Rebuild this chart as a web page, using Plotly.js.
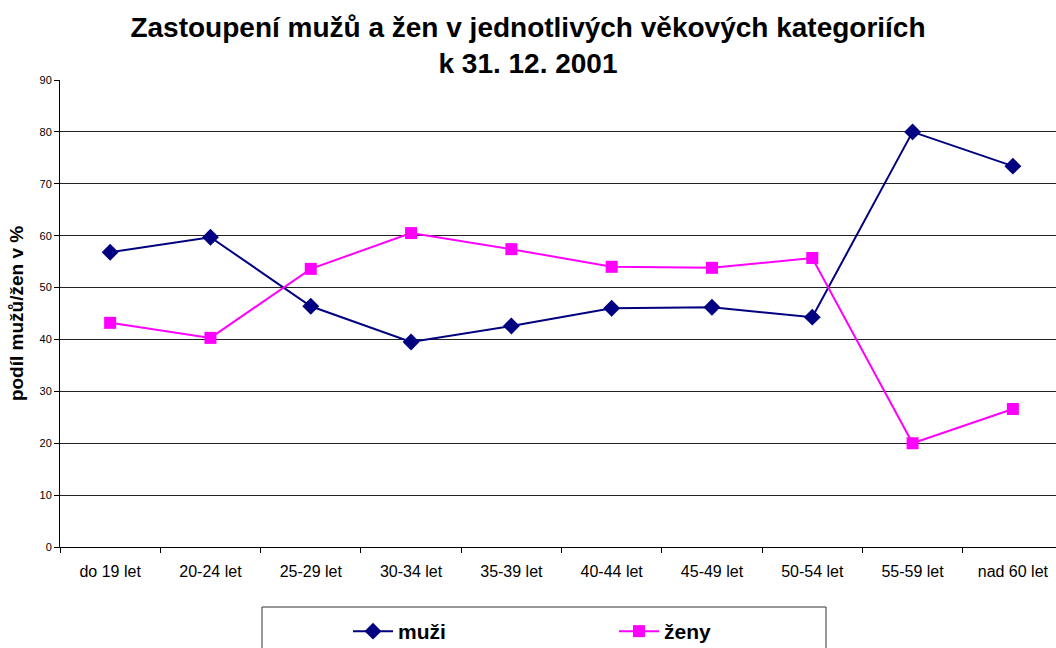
<!DOCTYPE html>
<html>
<head>
<meta charset="utf-8">
<script src="https://cdn.plot.ly/plotly-3.0.1.min.js"></script>
<style>html,body{margin:0;padding:0;background:#fff;}#chart{width:1056px;height:648px;}</style>
</head>
<body>
<div id="chart"></div>
<script>
const categories = ["do 19 let", "20-24 let", "25-29 let", "30-34 let", "35-39 let", "40-44 let", "45-49 let", "50-54 let", "55-59 let", "nad 60 let"];
const muzi = [56.8, 59.7, 46.4, 39.5, 42.6, 46.0, 46.2, 44.3, 80.0, 73.4];
const zeny = [43.2, 40.3, 53.6, 60.5, 57.4, 54.0, 53.8, 55.7, 20.0, 26.6];
const yTicks = [0, 10, 20, 30, 40, 50, 60, 70, 80, 90];

const FONT = "Liberation Sans, Arial, sans-serif";

const traces = [
  {
    x: categories, y: muzi, name: "muži", type: "scatter", mode: "lines+markers",
    line: {color: "#000080", width: 2},
    marker: {symbol: "diamond", size: 13, color: "#000080"}
  },
  {
    x: categories, y: zeny, name: "ženy", type: "scatter", mode: "lines+markers",
    line: {color: "#FF00FF", width: 2},
    marker: {symbol: "square", size: 12, color: "#FF00FF"}
  }
];

const layout = {
  width: 1056, height: 648,
  margin: {l: 60, r: 0, t: 80, b: 101},
  paper_bgcolor: "#fff", plot_bgcolor: "#fff",
  font: {family: FONT, color: "#000"},
  title: {
    text: "<b>Zastoupení mužů a žen v jednotlivých věkových kategoriích<br>k 31. 12. 2001</b>",
    font: {family: FONT, size: 28, color: "#000"},
    x: 0.5, xref: "container", xanchor: "center",
    y: 1 - 37/648, yref: "container", yanchor: "top"
  },
  xaxis: {
    type: "category",
    range: [-0.5, 9.43],
    automargin: false,
    showgrid: false, zeroline: false,
    showline: true, linecolor: "#000", linewidth: 1,
    ticks: "outside", tickson: "boundaries", ticklen: 5, tickcolor: "#000",
    tickfont: {family: FONT, size: 16, color: "#000"},
    ticklabelstandoff: 10,
    fixedrange: true
  },
  yaxis: {
    range: [0, 90], tickvals: yTicks, ticktext: yTicks.map(String),
    automargin: false,
    showgrid: true, gridcolor: "#222", gridwidth: 1,
    zeroline: false,
    showline: true, linecolor: "#000", linewidth: 1,
    ticks: "outside", ticklen: 5, tickcolor: "#000",
    tickfont: {family: FONT, size: 11, color: "#000"},
    title: {text: "<b>podíl mužů/žen v %</b>", font: {family: FONT, size: 19, color: "#000"}, standoff: 10},
    fixedrange: true
  },
  showlegend: true,
  legend: {
    orientation: "h",
    xref: "container", yref: "container",
    x: 348 / 1056, xanchor: "left",
    y: (648 - 611) / 648, yanchor: "top",
    bgcolor: "rgba(0,0,0,0)", borderwidth: 0,
    font: {family: FONT, size: 21, color: "#000", weight: "bold"},
    entrywidth: 211, entrywidthmode: "pixels",
    itemwidth: 40
  },
  shapes: [{
    type: "rect", xref: "paper", yref: "paper",
    x0: (262 - 60) / 996, x1: (826 - 60) / 996,
    y0: (547 - 607) / 467, y1: (547 - 700) / 467,
    line: {color: "#333", width: 1}, fillcolor: "rgba(0,0,0,0)"
  }]
};

Plotly.newPlot("chart", traces, layout, {displayModeBar: false, staticPlot: true});
</script>
</body>
</html>
